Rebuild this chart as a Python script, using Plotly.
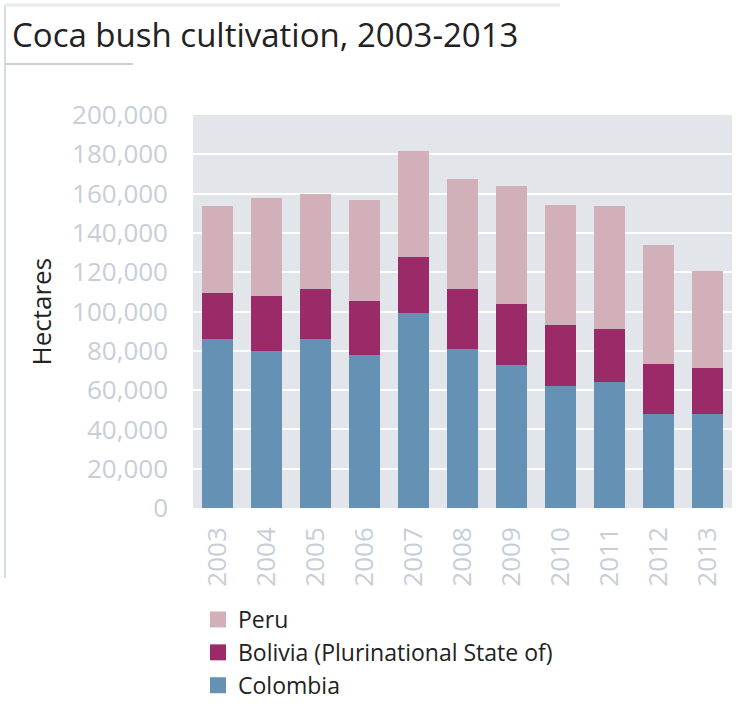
import plotly.graph_objects as go

# Coca bush cultivation by country, hectares
years = ["2003", "2004", "2005", "2006", "2007", "2008",
         "2009", "2010", "2011", "2012", "2013"]
colombia = [86000, 80000, 86000, 78000, 99000, 81000, 73000, 62000, 64000, 48000, 48000]
bolivia = [23600, 27700, 25400, 27500, 28900, 30500, 30900, 31000, 27200, 25300, 23000]
peru = [44200, 50300, 48200, 51400, 53700, 56100, 59900, 61200, 62500, 60400, 49800]

y_ticks = [0, 20000, 40000, 60000, 80000, 100000, 120000, 140000, 160000, 180000, 200000]

C_PERU = "#d1b0ba"
C_BOLIVIA = "#9b2b68"
C_COLOMBIA = "#6591b4"
TICK_COLOR = "#c8ced8"
FONT = "Open Sans"

W, H = 736, 704
ML, MR, MT, MB = 193, 4, 115, 196
PW, PH = W - ML - MR, H - MT - MB


def px_x(x):
    return (x - ML) / PW


def px_y(y):
    return (H - MB - y) / PH


fig = go.Figure()

# stacked bars, bottom to top
for name, vals, col in [("Colombia", colombia, C_COLOMBIA),
                        ("Bolivia (Plurinational State of)", bolivia, C_BOLIVIA),
                        ("Peru", peru, C_PERU)]:
    fig.add_trace(go.Bar(x=years, y=vals, name=name, marker_color=col,
                         marker_line_width=0, showlegend=False))

# legend entries with larger square swatches
for name, col in [("Peru", C_PERU),
                  ("Bolivia (Plurinational State of)", C_BOLIVIA),
                  ("Colombia", C_COLOMBIA)]:
    fig.add_trace(go.Scatter(x=[None], y=[None], mode="markers", name=name,
                             marker=dict(symbol="square", size=16, color=col)))

fig.update_layout(
    width=W, height=H,
    margin=dict(l=ML, r=MR, t=MT, b=MB, autoexpand=False),
    paper_bgcolor="white",
    plot_bgcolor="#e2e5e9",
    barmode="stack",
    bargap=0.35,
    font=dict(family=FONT, color="#222222"),
    title=dict(text="Coca bush cultivation, 2003-2013",
               font=dict(family=FONT, size=33, color="#222222"),
               x=12 / W, xanchor="left", xref="container",
               y=1 - 35 / H, yanchor="middle", yref="container"),
    legend=dict(x=px_x(198), xanchor="left", y=px_y(598), yanchor="top",
                font=dict(family=FONT, size=23, color="#222222"),
                traceorder="normal", bgcolor="rgba(0,0,0,0)",
                itemwidth=30, tracegroupgap=0),
    xaxis=dict(tickangle=-90, tickfont=dict(family=FONT, size=26, color=TICK_COLOR),
               showgrid=False, showline=False, ticks="", ticklabelstandoff=13,
               fixedrange=True),
    yaxis=dict(range=[0, 200000], tickvals=y_ticks,
               ticktext=[f"{v:,}" for v in y_ticks],
               tickfont=dict(family=FONT, size=26, color=TICK_COLOR),
               showgrid=True, gridcolor="white", gridwidth=2,
               zeroline=False, showline=False, ticks="", ticklabelstandoff=24,
               fixedrange=True),
    annotations=[dict(text="Hectares", textangle=-90, showarrow=False,
                      xref="paper", yref="paper", x=px_x(40), y=0.5,
                      xanchor="center", yanchor="middle",
                      font=dict(family=FONT, size=26, color="#222222"))],
    shapes=[
        # frame lines around the title block
        dict(type="line", xref="paper", yref="paper",
             x0=px_x(5), x1=px_x(5), y0=px_y(5), y1=px_y(578),
             line=dict(color="#d6dce4", width=2)),
        dict(type="line", xref="paper", yref="paper",
             x0=px_x(5), x1=px_x(560), y0=px_y(5), y1=px_y(5),
             line=dict(color="#e6eaef", width=3)),
        dict(type="line", xref="paper", yref="paper",
             x0=px_x(5), x1=px_x(133), y0=px_y(64), y1=px_y(64),
             line=dict(color="#c8d0da", width=2)),
    ],
)

fig.write_html("out.html")
